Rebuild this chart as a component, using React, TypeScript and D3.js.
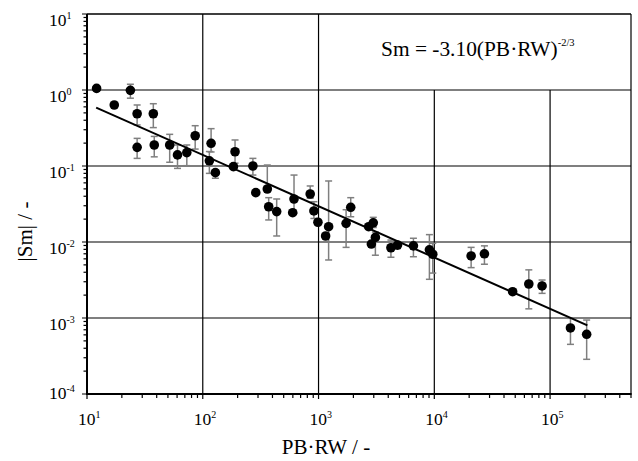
import React from "react";
import * as d3 from "d3";

// Data
const xs = [12.1, 17.2, 23.7, 27.1, 27.1, 37.4, 38.1, 51.8, 60.5, 72.8, 86, 118, 114, 128.5, 184, 190, 271, 287, 361, 371, 435, 598, 614, 847, 912, 988, 1151, 1222, 1730, 1897, 2710, 2970, 2860, 3097, 4220, 4810, 6600, 9070, 9700, 20800, 27100, 47500, 65500, 85300, 150000, 207000];
const ys = [1.05, 0.635, 0.99, 0.487, 0.176, 0.487, 0.189, 0.189, 0.14, 0.15, 0.25, 0.199, 0.117, 0.0817, 0.098, 0.154, 0.1, 0.0446, 0.0498, 0.0291, 0.0251, 0.0243, 0.0368, 0.0428, 0.0256, 0.0182, 0.012, 0.0159, 0.0176, 0.0286, 0.0159, 0.0179, 0.0094, 0.0115, 0.0084, 0.0091, 0.0089, 0.0079, 0.0069, 0.00655, 0.007, 0.00222, 0.0028, 0.00264, 0.00074, 0.00061];
const errLo: (number | null)[] = [null, null, 0.78, 0.347, 0.126, 0.32, 0.132, 0.112, 0.093, 0.101, 0.167, 0.153, 0.08, 0.069, null, 0.109, 0.076, null, 0.0498, 0.0195, 0.012, null, 0.0239, 0.0376, 0.0204, null, null, 0.0058, 0.0085, 0.0215, null, 0.0155, null, 0.0067, 0.0063, 0.0082, 0.0064, 0.00323, 0.0039, 0.0046, 0.0051, null, 0.00132, 0.00211, 0.00045, 0.000286];
const errHi: (number | null)[] = [null, null, 1.19, 0.635, 0.231, 0.66, 0.245, 0.261, 0.189, 0.189, 0.339, 0.31, 0.155, 0.089, null, 0.22, 0.126, null, 0.103, 0.0383, 0.0368, null, 0.076, 0.0546, 0.0339, null, null, 0.0635, 0.0266, 0.0383, null, 0.0211, null, 0.0135, 0.0106, 0.0101, 0.0112, 0.0125, 0.0096, 0.0085, 0.0089, null, 0.0043, 0.00316, 0.00099, 0.00094];

const fitX = [12, 210000];
const fitY = [0.585, 0.0008];

const xDecades = [1, 2, 3, 4, 5];
const yDecades = [1, 0, -1, -2, -3, -4];

const W = 638;
const H = 461;
const FONT = "Liberation Serif";

export default function App() {
  const x = d3.scaleLog().domain([10, 5e5]).range([87, 631]);
  const y = d3.scaleLog().domain([1e-4, 10]).range([394, 14]);
  const [x0, x1] = x.range();
  const [y0, y1] = y.range();

  const xMinor: number[] = [];
  for (let e = 1; e <= 5; e++) for (let m = 2; m <= 9; m++) { const v = m * Math.pow(10, e); if (v <= 5e5) xMinor.push(v); }
  const yMinor: number[] = [];
  for (let e = -4; e < 1; e++) for (let m = 2; m <= 9; m++) yMinor.push(m * Math.pow(10, e));

  const line = d3.line<number>().x((_, i) => x(fitX[i])).y((_, i) => y(fitY[i]));
  const gray = "#7f7f7f";
  const ts: React.CSSProperties = { fontFamily: FONT };

  return (
    <div style={{ position: "fixed", left: 0, top: 0 }}>
      <svg width={W} height={H} style={{ display: "block", background: "#fff" }}>
        {/* grid */}
        {xDecades.map((e) => (
          <line key={"gx" + e} x1={x(Math.pow(10, e))} x2={x(Math.pow(10, e))} y1={e >= 4 ? y(1) : y1} y2={y0 + 5} stroke="#000" strokeWidth={1.2} />
        ))}
        {yDecades.map((e) => (
          <line key={"gy" + e} x1={x0 - 5} x2={x1} y1={y(Math.pow(10, e))} y2={y(Math.pow(10, e))} stroke="#000" strokeWidth={1.2} />
        ))}
        {/* frame */}
        <line x1={x0} x2={x1} y1={y1} y2={y1} stroke="#000" strokeWidth={1.2} />
        <line x1={x1} x2={x1} y1={y1} y2={y0} stroke="#000" strokeWidth={1.2} />
        <line x1={x0 - 1} x2={x1 + 0.6} y1={y0} y2={y0} stroke="#000" strokeWidth={2} />
        <line x1={x0} x2={x0} y1={y1} y2={y0 + 1} stroke="#000" strokeWidth={2} />
        {/* minor ticks */}
        {xMinor.map((v, i) => (
          <line key={"mx" + i} x1={x(v)} x2={x(v)} y1={y0} y2={y0 + 4} stroke="#000" strokeWidth={1.2} />
        ))}
        {yMinor.map((v, i) => (
          <line key={"my" + i} x1={x0 - 3.5} x2={x0} y1={y(v)} y2={y(v)} stroke="#000" strokeWidth={1.2} />
        ))}
        {/* tick labels */}
        {xDecades.map((e) => (
          <text key={"lx" + e} x={x(Math.pow(10, e)) - 9} y={425} fontSize={17.5} fill="#000" style={ts}>
            10<tspan fontSize={10} dy={-7}>{e}</tspan>
          </text>
        ))}
        {yDecades.map((e) => (
          <text key={"ly" + e} x={49} y={y(Math.pow(10, e)) + (e === -4 ? 4.5 : 11.5)} fontSize={17.5} fill="#000" style={ts}>
            10<tspan fontSize={10} dy={-7}>{e}</tspan>
          </text>
        ))}
        {/* error bars */}
        {xs.map((xv, i) => {
          const lo = errLo[i];
          const hi = errHi[i];
          if (lo == null || hi == null) return null;
          const px = x(xv);
          return (
            <g key={"e" + i} stroke={gray} strokeWidth={1.5}>
              <line x1={px} x2={px} y1={y(hi)} y2={y(lo)} />
              <line x1={px - 3.5} x2={px + 3.5} y1={y(hi)} y2={y(hi)} />
              <line x1={px - 3.5} x2={px + 3.5} y1={y(lo)} y2={y(lo)} />
            </g>
          );
        })}
        {/* fit line */}
        <path d={line(fitX) || ""} fill="none" stroke="#000" strokeWidth={2} />
        {/* points */}
        {xs.map((xv, i) => (
          <circle key={"p" + i} cx={x(xv)} cy={y(ys[i])} r={4.8} fill="#000" />
        ))}
        {/* equation */}
        <text x={381} y={56} fontSize={21.4} fill="#000" style={ts}>
          Sm = -3.10(PB·RW)<tspan fontSize={10.5} dy={-10}>-2/3</tspan>
        </text>
        {/* axis titles */}
        <text x={326} y={454} fontSize={21} textAnchor="middle" fill="#000" style={ts}>PB·RW / -</text>
        <text transform="translate(32,231.5) rotate(-90)" fontSize={21} textAnchor="middle" fill="#000" style={ts}>|Sm| / -</text>
      </svg>
    </div>
  );
}
